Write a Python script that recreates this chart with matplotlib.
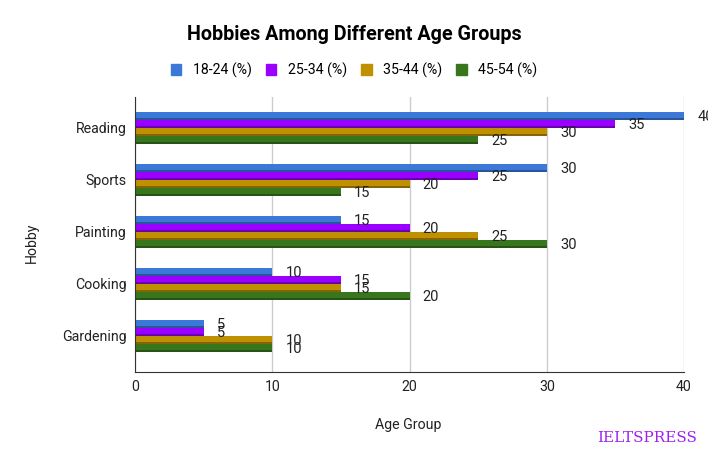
import matplotlib
matplotlib.use("Agg")
import matplotlib.pyplot as plt
import numpy as np

hobbies = ["Reading", "Sports", "Painting", "Cooking", "Gardening"]
series = ["18-24 (%)", "25-34 (%)", "35-44 (%)", "45-54 (%)"]
v18_24 = [40, 30, 15, 10, 5]
v25_34 = [35, 25, 20, 15, 5]
v35_44 = [30, 20, 25, 15, 10]
v45_54 = [25, 15, 30, 20, 10]
values = [v18_24, v25_34, v35_44, v45_54]
colors = ["#3c78d8", "#9900ff", "#bf9000", "#38761d"]
dark = ["#2a5499", "#6b00b3", "#866500", "#275314"]
xticks = [0, 10, 20, 30, 40]

plt.rcParams['font.family'] = ['Roboto', 'DejaVu Sans']

fig = plt.figure(figsize=(7.08, 4.57), dpi=100)
ax = fig.add_axes([135/708, 1-372/457, (684-135)/708, (372-97)/457])

n = len(hobbies)
y = np.arange(n)
bh = 8/52
for j, (vals, c, d) in enumerate(zip(values, colors, dark)):
    pos = y - 1.5*bh + j*bh
    ax.barh(pos, vals, height=bh, color=c, zorder=3, linewidth=0)
    ax.barh(pos + bh*0.375, vals, height=bh*0.25, color=d, zorder=3, linewidth=0)
    for p, v in zip(pos, vals):
        ax.annotate(f"{v}", (v, p), xytext=(9.5, -0.5), textcoords="offset points",
                    va="center", ha="left", fontsize=10.5, color="#222222",
                    annotation_clip=False, zorder=5)

ax.set_ylim(n - 1 + 36/52, -31/52)
ax.set_xlim(0, 40)
ax.set_yticks(y)
ax.set_yticklabels(hobbies, fontsize=10.2, color="#222222")
ax.set_xticks(xticks)
ax.set_xticklabels([str(t) for t in xticks], fontsize=10.2, color="#222222")
ax.tick_params(length=0, pad=6)
ax.grid(axis='x', color="#cccccc", linewidth=1, zorder=0)
for s in ["top", "right"]:
    ax.spines[s].set_visible(False)
ax.spines["left"].set_color("#333333")
ax.spines["bottom"].set_color("#333333")
ax.spines["left"].set_zorder(4)

fig.text(354/708, 1-35/457, "Hobbies Among Different Age Groups", ha="center", va="center",
         fontsize=14.2, fontweight="bold", color="#000000")
fig.text(32/708, 1-243/457, "Hobby", rotation=90, ha="center", va="center", fontsize=10.2, color="#222222")
fig.text(408/708, 1-425/457, "Age Group", ha="center", va="center", fontsize=10.2, color="#222222")
fig.text(647/708, 1-438/457, "IELTSPRESS", ha="center", va="center", fontsize=11,
         family=["DejaVu Serif", "Liberation Serif"], color="#a020f0")

handles = [plt.Rectangle((0, 0), 1, 1, color=c) for c in colors]
fig.legend(handles, series, loc="center", bbox_to_anchor=(354/708, 1-70/457), ncol=4,
           frameon=False, fontsize=10.2, handlelength=0.75, handleheight=0.75,
           columnspacing=1.0, handletextpad=0.8)

fig.savefig("out.png", dpi=100)
